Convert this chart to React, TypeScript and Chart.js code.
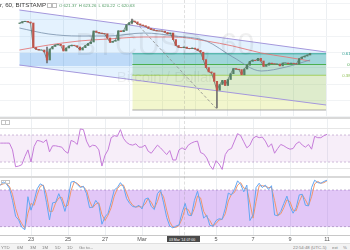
import React, { useEffect, useRef } from "react";
import { Chart, registerables } from "chart.js";

Chart.register(...registerables);

// ---------------- data ----------------
// time axis: days relative to 1 Mar 00:00, series sampled every 4 hours
const FIRST_BAR_DAY = -7 - 2 / 3; // 21 Feb 08:00
const BAR_DAYS = 1 / 6;
const VIEW_FROM = -7.676;
const VIEW_TO = 11.243;

const dayTicks = [-6, -4, -2, 0, 2, 4, 6, 8, 10];
const dayLabels = ["23", "25", "27", "Mar", "3", "5", "7", "9", "11"];

const closes = [
  651, 652.3, 652.7, 652, 651, 626.5, 624.7, 624, 624, 622,
  614, 625, 627.5, 629, 629.7, 628.5, 623, 626, 628, 628.8,
  628.3, 627, 624, 626.3, 628.5, 630.4, 632, 643, 641.7, 641,
  640.5, 640.2, 636, 631.6, 632.7, 633.7, 643.2, 642.3, 643.6, 649.3,
  651.3, 652.9, 652.1, 650.1, 649, 648.3, 647.3, 645.6, 644.4, 643.7,
  643.1, 643, 642.8, 641.6, 640.2, 641, 634.4, 628.5, 626.6, 626.4,
  626.9, 625.7, 625.3, 625.9, 625, 623.6, 621.8, 614.4, 606.4, 602.1,
  601, 592.7, 583.8, 589.5, 593.7, 588.5, 594.5, 600.3, 605.5, 604.8,
  604.4, 599.2, 605, 608.8, 612.6, 613.9, 613.3, 615.7, 613, 607.6,
  608.8, 610.9, 610.3, 610, 610, 608.1, 611, 611, 610.2, 610.8,
  610.4, 610, 615.4, 616.9, 617.9, 619, 620.6,
];

const wickIndex = [10, 41, 72];
const wickLow = [611, 650, 566];
const wickHigh = [627, 655, 592];

const maDays = [-7.68, -5.89, -4.05, -2.27, -0.11, 1.78, 3.68, 5.3, 7.03, 8.54, 10];
const maSlow = [624, 629, 633, 635, 637, 637, 633, 628, 621, 617, 613];
const maFast = [646, 640, 638, 638, 641, 638, 633, 617, 603, 607, 614];

const channelDays = [-7.68, 10.97];
const channelUpper = [664, 622];
const channelLower = [609, 569];

const zoneDays = [-7.68, -0.81];
const zonePrices = [621, 608];

const fibTrendDays = [-0.81, 4.38];
const fibHigh = 655;
const fibLow = 564;
const fibBoxDays = [-0.81, 10.97];
const fibLevels = [0.618, 0.5, 0.382, 0];
const fibLabels = ["0.618", "0.5", "0.382"];

const priceGrid = [558, 574, 590, 606, 622, 638, 654, 670];

const rsi = [
  58, 58, 58, 58, 48, 23, 24, 26, 38, 48,
  30, 53, 62, 61, 59, 63, 45, 54, 54, 53,
  52, 46, 43, 62, 60, 56, 79, 78, 61, 52,
  55, 54, 48, 24, 40, 48, 66, 69, 68, 78,
  65, 59, 56, 55, 57, 52, 52, 55, 46, 43,
  49, 55, 51, 46, 41, 47, 33, 33, 48, 51,
  48, 55, 58, 60, 61, 44, 42, 36, 25, 19,
  32, 27, 19, 41, 48, 50, 61, 72, 69, 60,
  51, 55, 65, 68, 66, 67, 61, 52, 57, 43,
  50, 56, 54, 51, 49, 50, 57, 60, 55, 52,
  56, 49, 68, 66, 66, 69, 71,
];
const rsiBand = [70, 30];
const rsiGrid = [20, 80];

const stochK = [
  88, 93, 90, 83, 63, 37, 31, 19, 15, 69,
  47, 62, 82, 90, 87, 60, 31, 59, 60, 74,
  62, 45, 65, 93, 94, 89, 84, 86, 74, 51,
  52, 63, 56, 24, 36, 42, 60, 80, 84, 92,
  85, 66, 58, 53, 52, 55, 49, 65, 67, 53,
  48, 74, 80, 59, 35, 21, 18, 21, 23, 43,
  58, 39, 38, 63, 78, 57, 34, 39, 22, 21,
  30, 33, 32, 50, 75, 72, 81, 95, 89, 77,
  88, 30, 39, 84, 91, 84, 88, 81, 87, 39,
  38, 45, 58, 70, 53, 42, 51, 72, 73, 55,
  54, 84, 96, 92, 91, 94, 96,
];
const stochD = [
  88, 90, 91, 86, 73, 50, 34, 25, 17, 42,
  58, 55, 72, 86, 88, 73, 45, 45, 59, 67,
  68, 53, 55, 79, 93, 91, 86, 85, 80, 62,
  51, 57, 59, 40, 30, 39, 51, 70, 82, 88,
  88, 75, 62, 55, 52, 53, 52, 57, 66, 60,
  50, 61, 77, 69, 47, 28, 19, 19, 22, 33,
  50, 48, 38, 50, 70, 67, 45, 36, 30, 21,
  25, 31, 32, 41, 62, 73, 76, 88, 92, 83,
  82, 59, 34, 61, 87, 87, 86, 84, 84, 63,
  38, 41, 51, 64, 61, 47, 46, 61, 72, 64,
  54, 69, 90, 94, 91, 92, 95,
];
const stochBand = [80, 20];

const headerTitle = "r, 60, BITSTAMP";
const ohlcKeys = ["O", "H", "L", "C"];
const ohlcValues = ["621.37", "623.26", "620.22", "620.63"];
const rangeButtons = ["YTD", "6M", "3M", "1M", "5D", "1D", "Go to..."];
const rangeLefts = [1, 17, 30, 42, 55, 67, 79];
const clockText = "22:54:48 (UTC-5)";
const crosshairText = "03 Mar '14 07:00";

// ---------------- helpers ----------------
const FONT = '"Liberation Sans", Arial, sans-serif';
const barDay = (i: number) => FIRST_BAR_DAY + i * BAR_DAYS;
const seg = (days: number[], vals: number[]) => days.map((d, i) => ({ x: d, y: vals[i] }));
const series = (vals: number[]) => vals.map((v, i) => ({ x: barDay(i), y: v }));
const fibPrice = (lv: number) => fibLow + lv * (fibHigh - fibLow);

const lineDs = (data: any[], opts: any) => ({
  type: "line",
  data,
  pointRadius: 0,
  borderWidth: 1,
  borderColor: "rgba(0,0,0,0)",
  fill: false,
  tension: 0,
  ...opts,
});

const timeX = (labels: boolean) => ({
  type: "linear",
  min: VIEW_FROM,
  max: VIEW_TO,
  afterFit: (s: any) => {
    s.height = labels ? 8 : 0;
  },
  afterBuildTicks: (s: any) => {
    s.ticks = dayTicks.map((v) => ({ value: v }));
  },
  ticks: {
    display: labels,
    autoSkip: false,
    maxRotation: 0,
    padding: 1,
    color: "#555",
    font: { size: 5.5, family: FONT },
    callback: (v: number) => {
      const k = dayTicks.indexOf(v);
      return k >= 0 ? dayLabels[k] : "";
    },
  },
  grid: { color: "#eceff2", drawTicks: false },
  border: { display: labels, color: "#c8c8c8" },
});

const hiddenY = (min: number, max: number, grid: number[], color: string) => ({
  type: "linear",
  min,
  max,
  afterFit: (s: any) => {
    s.width = 0;
  },
  afterBuildTicks: (s: any) => {
    s.ticks = grid.map((v) => ({ value: v }));
  },
  ticks: { display: false },
  grid: { color, drawTicks: false },
  border: { display: false },
});

const baseOptions = {
  responsive: false,
  animation: false,
  events: [],
  layout: { padding: 0 },
  plugins: { legend: { display: false }, tooltip: { enabled: false } },
};

// small text: render at 6px and scale down (browsers clamp tiny font sizes)
const tiny = (px: number, origin = "left top"): React.CSSProperties => ({
  fontSize: 6,
  lineHeight: "6px",
  transform: `scale(${px / 6})`,
  transformOrigin: origin,
  whiteSpace: "nowrap",
});

export default function App() {
  const priceRef = useRef<HTMLCanvasElement>(null);
  const rsiRef = useRef<HTMLCanvasElement>(null);
  const stochRef = useRef<HTMLCanvasElement>(null);

  useEffect(() => {
    const charts: Chart[] = [];
    const fibLineColors = ["#35a89a", "#4caf50", "#9ccc65", "#a8a8a8"];
    const fibZoneColors = ["", "rgba(0,150,136,0.30)", "rgba(76,175,80,0.25)", "rgba(205,220,57,0.25)"];
    const candleColor = (ctx: any) => {
      const i = ctx.dataIndex;
      const o = i ? closes[i - 1] : closes[i];
      return closes[i] >= o ? "#557f66" : "#c0554b";
    };

    if (priceRef.current) {
      charts.push(
        new Chart(priceRef.current, {
          type: "line",
          data: {
            datasets: [
              lineDs(seg(channelDays, channelUpper), { borderWidth: 0, order: 100 }),
              lineDs(seg(channelDays, channelLower), {
                borderWidth: 0,
                fill: "-1",
                backgroundColor: "rgba(33,150,243,0.12)",
                order: 99,
              }),
              lineDs(seg(zoneDays, [zonePrices[0], zonePrices[0]]), { borderWidth: 0, order: 98 }),
              lineDs(seg(zoneDays, [zonePrices[1], zonePrices[1]]), {
                borderWidth: 0,
                fill: "-1",
                backgroundColor: "rgba(33,120,220,0.2)",
                order: 97,
              }),
              ...fibLevels.map((lv, k) =>
                lineDs(seg(fibBoxDays, [fibPrice(lv), fibPrice(lv)]), {
                  borderColor: fibLineColors[k],
                  borderWidth: 1,
                  fill: k === 0 ? false : "-1",
                  backgroundColor: fibZoneColors[k] || "rgba(0,0,0,0)",
                  order: 96 - k,
                })
              ),
              lineDs(seg(fibTrendDays, [fibHigh, fibLow]), {
                borderColor: "#8c8c8c",
                borderWidth: 0.8,
                borderDash: [3, 2],
                order: 90,
              }),
              lineDs(seg(channelDays, channelUpper), { borderColor: "#a497dc", order: 85 }),
              lineDs(seg(channelDays, channelLower), { borderColor: "#a497dc", order: 84 }),
              lineDs(seg(maDays, maSlow), {
                borderColor: "rgba(229,115,115,0.85)",
                cubicInterpolationMode: "monotone",
                order: 80,
              }),
              lineDs(seg(maDays, maFast), {
                borderColor: "rgba(120,144,170,0.8)",
                cubicInterpolationMode: "monotone",
                order: 79,
              }),
              {
                type: "bar",
                data: wickIndex.map((i, k) => ({ x: barDay(i), y: [wickLow[k], wickHigh[k]] })),
                backgroundColor: "#707070",
                barThickness: 1,
                grouped: false,
                order: 72,
              },
              lineDs(series(closes), { borderColor: "#5f7266", borderWidth: 0.8, order: 71 }),
              {
                type: "bar",
                data: closes.map((c, i) => ({ x: barDay(i), y: [i ? closes[i - 1] : c - 0.5, c] })),
                backgroundColor: candleColor,
                barThickness: 1.6,
                grouped: false,
                order: 70,
              },
            ],
          },
          options: {
            ...baseOptions,
            scales: {
              x: timeX(false),
              y: hiddenY(557, 674, priceGrid, "#f1f3f5"),
            },
          } as any,
        } as any)
      );
    }

    if (rsiRef.current) {
      const ends = [VIEW_FROM, VIEW_TO];
      charts.push(
        new Chart(rsiRef.current, {
          type: "line",
          data: {
            datasets: [
              lineDs(seg(ends, [rsiBand[0], rsiBand[0]]), {
                borderColor: "rgba(150,110,170,0.55)",
                borderWidth: 0.8,
                borderDash: [2, 2],
                order: 10,
              }),
              lineDs(seg(ends, [rsiBand[1], rsiBand[1]]), {
                borderColor: "rgba(150,110,170,0.55)",
                borderWidth: 0.8,
                borderDash: [2, 2],
                fill: "-1",
                backgroundColor: "rgba(156,39,176,0.08)",
                order: 9,
              }),
              lineDs(series(rsi), { borderColor: "#c57bd9", borderWidth: 1, order: 1 }),
            ],
          },
          options: {
            ...baseOptions,
            scales: { x: timeX(false), y: hiddenY(9.3, 93.7, rsiGrid, "#e6e6e6") },
          } as any,
        } as any)
      );
    }

    if (stochRef.current) {
      const ends = [VIEW_FROM, VIEW_TO];
      charts.push(
        new Chart(stochRef.current, {
          type: "line",
          data: {
            datasets: [
              lineDs(seg(ends, [stochBand[0], stochBand[0]]), {
                borderColor: "rgba(130,100,160,0.6)",
                borderWidth: 0.8,
                borderDash: [2, 2],
                order: 10,
              }),
              lineDs(seg(ends, [stochBand[1], stochBand[1]]), {
                borderColor: "rgba(130,100,160,0.6)",
                borderWidth: 0.8,
                borderDash: [2, 2],
                fill: "-1",
                backgroundColor: "rgba(160,70,230,0.3)",
                order: 9,
              }),
              lineDs(series(stochD), { borderColor: "#f0956a", borderWidth: 1, order: 2 }),
              lineDs(series(stochK), { borderColor: "#62a6f2", borderWidth: 1, order: 1 }),
            ],
          },
          options: {
            ...baseOptions,
            scales: { x: timeX(true), y: hiddenY(6.4, 99.6, [], "#eeeeee") },
          } as any,
        } as any)
      );
    }

    return () => charts.forEach((c) => c.destroy());
  }, []);

  const abs = (s: React.CSSProperties): React.CSSProperties => ({ position: "absolute", ...s });
  const fibTextColors = ["#2a9d8f", "#43a047", "#8bbd4f"];
  const grayText = "#808080";

  return (
    <div
      style={{
        position: "fixed",
        left: 0,
        top: 0,
        width: 350,
        height: 250,
        overflow: "hidden",
        background: "#ffffff",
        fontFamily: FONT,
      }}
    >
      <canvas ref={priceRef} width={350} height={117} style={abs({ left: 0, top: 0 })} />
      <div style={abs({ left: 0, top: 117, width: 350, height: 2, background: "#d9d9d9" })} />
      <canvas ref={rsiRef} width={350} height={57} style={abs({ left: 0, top: 119 })} />
      <div style={abs({ left: 0, top: 176, width: 350, height: 2, background: "#d9d9d9" })} />
      <canvas ref={stochRef} width={350} height={65} style={abs({ left: 0, top: 178 })} />

      {/* crosshair */}
      <div style={abs({ left: 184, top: 0, width: 0, height: 235, borderLeft: "1px dashed rgba(130,130,130,0.25)" })} />

      {/* watermark */}
      <div
        style={abs({
          left: 0,
          width: 330,
          top: 29,
          textAlign: "center",
          fontSize: 31,
          lineHeight: "31px",
          color: "rgba(0,0,0,0.06)",
          whiteSpace: "nowrap",
        })}
      >
        BTCUSD, 60
      </div>
      <div
        style={abs({
          left: 0,
          width: 330,
          top: 69,
          textAlign: "center",
          fontSize: 15,
          lineHeight: "15px",
          color: "rgba(0,0,0,0.06)",
          whiteSpace: "nowrap",
        })}
      >
        Bitcoin / Dollar
      </div>

      {/* header */}
      <div style={abs({ left: 0, top: 2, color: "#3a3a3a", ...tiny(6.2) })}>{headerTitle}</div>
      <div style={abs({ left: 47, top: 3, width: 3, height: 3, border: "0.6px solid #bdbdbd" })} />
      <div style={abs({ left: 52, top: 3, width: 3, height: 3, border: "0.6px solid #bdbdbd" })} />
      <div style={abs({ left: 59, top: 3, color: "#4f9a62", ...tiny(4.3) })}>
        {ohlcKeys.map((k, i) => (
          <span key={k} style={{ marginRight: 3 }}>
            {k} {ohlcValues[i]}
          </span>
        ))}
      </div>

      {/* fib level labels */}
      {fibLabels.map((t, k) => (
        <div
          key={t}
          style={abs({
            right: -3,
            top: [51, 62, 73][k],
            color: fibTextColors[k],
            ...tiny(4.3, "right top"),
          })}
        >
          {t}
        </div>
      ))}

      {/* pane icons */}
      <div style={abs({ left: 1, top: 120, width: 2.5, height: 2.5, border: "0.6px solid #c4c4c4" })} />
      <div style={abs({ left: 5, top: 120, width: 2.5, height: 2.5, border: "0.6px solid #c4c4c4" })} />
      <div style={abs({ left: 1, top: 179.5, width: 2.5, height: 2.5, border: "0.6px solid #c4c4c4" })} />
      <div style={abs({ left: 5, top: 179.5, width: 2.5, height: 2.5, border: "0.6px solid #c4c4c4" })} />

      {/* crosshair date box */}
      <div style={abs({ left: 167, top: 236, width: 33, height: 6, background: "#4a4a4a" })} />
      <div style={abs({ left: 169, top: 237.5, color: "#fff", ...tiny(3.5) })}>{crosshairText}</div>

      {/* bottom toolbar */}
      <div
        style={abs({
          left: 0,
          top: 243,
          width: 350,
          height: 7,
          background: "#f3f3f3",
          borderTop: "1px solid #e0e0e0",
        })}
      />
      {rangeButtons.map((t, i) => (
        <div key={t} style={abs({ left: rangeLefts[i], top: 245, color: grayText, ...tiny(4.3) })}>
          {t}
        </div>
      ))}
      <div style={abs({ left: 293, top: 245, color: grayText, ...tiny(4.3) })}>{clockText}</div>
      <div style={abs({ left: 332, top: 245, color: grayText, ...tiny(4.3) })}>ext</div>
      <div style={abs({ left: 343, top: 245, color: grayText, ...tiny(4.3) })}>%</div>
    </div>
  );
}
